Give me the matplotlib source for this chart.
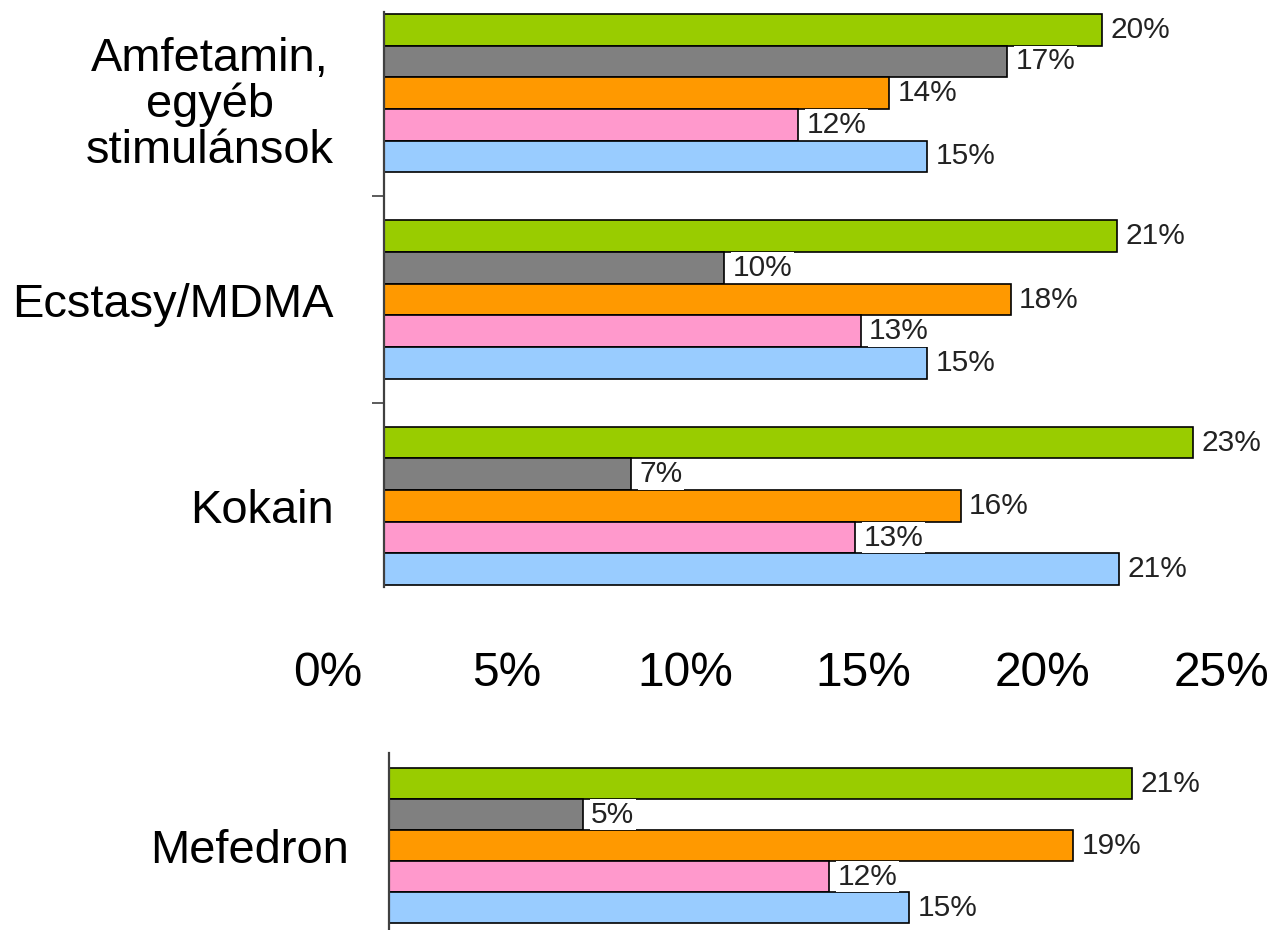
import matplotlib
matplotlib.use("Agg")
import matplotlib.pyplot as plt
import numpy as np
from matplotlib.transforms import ScaledTranslation

plt.rcParams['font.family'] = ['Liberation Sans', 'DejaVu Sans']

# Data (bar lengths, in %)
groups_top = ['Amfetamin,\negyéb\nstimulánsok', 'Ecstasy/MDMA', 'Kokain']
groups_bottom = ['Mefedron']
s1 = [20.1, 20.52, 22.65]
s2 = [17.44, 9.52, 6.92]
s3 = [14.14, 17.55, 16.15]
s4 = [11.59, 13.35, 13.19]
s5 = [15.2, 15.2, 20.58]
mef = [20.8, 5.43, 19.15, 12.32, 14.56]
xticks = [0, 5, 10, 15, 20, 25]
colors = ['#99CC00', '#808080', '#FF9900', '#FF99CC', '#99CCFF']

h = 0.1534
offs = (np.arange(5) - 2) * h

fig = plt.figure(figsize=(12.77, 9.30), dpi=100)
W = 893 / 1277
ax = fig.add_axes([384 / 1277, 1 - 587 / 930, W, 575 / 930])
ax2 = fig.add_axes([389 / 1277, 0.0, W, 177 / 930])


def draw(a, vals, names, pad):
    y = np.arange(len(names))
    for k, v in enumerate(vals):
        bars = a.barh(y + offs[k], v, height=h, color=colors[k],
                      edgecolor='black', linewidth=1.2)
        for b, val in zip(bars, v):
            a.annotate('%d%%' % round(val), (b.get_width(), b.get_y() + h / 2),
                       xytext=(6, 0), textcoords='offset points',
                       va='center', ha='left', fontsize=21.5, color='#222222',
                       bbox=dict(facecolor='white', edgecolor='none', pad=1))
    a.set_xlim(0, 25)
    for sp in ['top', 'right', 'bottom']:
        a.spines[sp].set_visible(False)
    a.spines['left'].set_color('#404040')
    a.spines['left'].set_linewidth(1.6)
    a.set_yticks(y, names, minor=True)
    a.tick_params(axis='y', which='minor', length=0, labelsize=33.8, pad=pad)


draw(ax, [s1, s2, s3, s4, s5], groups_top, 36)
ax.set_ylim(2.393, -0.393)
ax.set_yticks([0.5, 1.5])
ax.set_yticklabels([])
ax.tick_params(axis='y', which='major', length=8.6, width=1.2, color='#404040')
ax.set_xticks(xticks, ['%d%%' % t for t in xticks])
ax.tick_params(axis='x', length=0, labelsize=34.5, pad=46)
shift = ScaledTranslation(-56 / 100, 0, fig.dpi_scale_trans)
for t in ax.xaxis.get_major_ticks():
    t.label1.set_transform(t.label1.get_transform() + shift)

draw(ax2, [[v] for v in mef], groups_bottom, 29)
ax2.set_ylim(0.418, -0.458)
ax2.set_yticks([])
ax2.set_xticks([])

fig.canvas.draw()
for t in ax.yaxis.get_minor_ticks():
    t.label1.set_multialignment('center')
    t.label1.set_linespacing(1.05)
    t.label1.set_transform(t.label1.get_transform() +
                           ScaledTranslation(0, -6 / 100, fig.dpi_scale_trans)
                           if '\n' in t.label1.get_text() else t.label1.get_transform())

fig.savefig('out.png', dpi=100)
